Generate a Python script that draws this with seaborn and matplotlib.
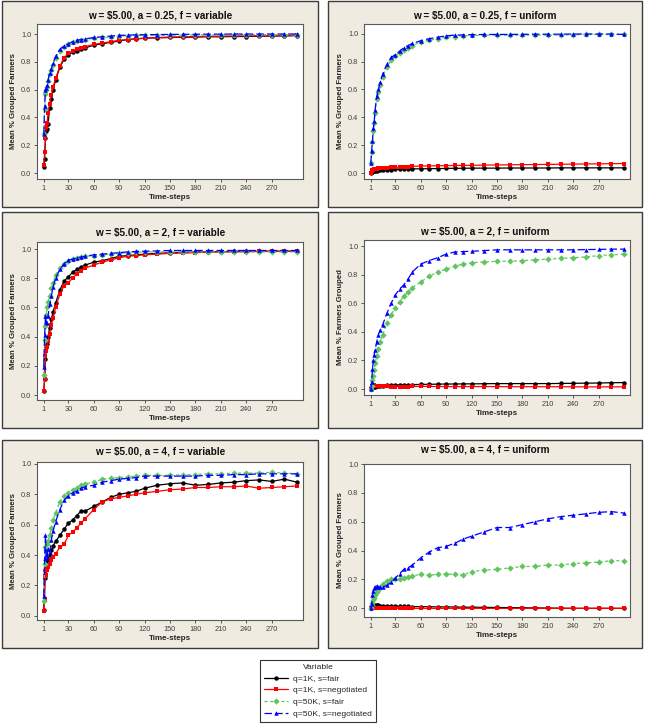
import matplotlib
matplotlib.use("Agg")
import matplotlib.pyplot as plt
from matplotlib.patches import Rectangle
import seaborn as sns
import pandas as pd

steps = [1, 2, 3, 4, 5, 6, 8, 10, 12, 15, 20, 25, 30, 35, 40, 45, 50, 60, 70, 80,
         90, 100, 110, 120, 135, 150, 165, 180, 195, 210, 225, 240, 255, 270, 285, 300]

series_names = ["q=1K, s=fair", "q=1K, s=negotiated", "q=50K, s=fair", "q=50K, s=negotiated"]

panel_titles = ["w = $5.00, a = 0.25, f = variable", "w = $5.00, a = 0.25, f = uniform",
                "w = $5.00, a = 2, f = variable", "w = $5.00, a = 2, f = uniform",
                "w = $5.00, a = 4, f = variable", "w = $5.00, a = 4, f = uniform"]
y_labels = ["Mean % Grouped Farmers", "Mean % Grouped Farmers",
            "Mean % Grouped Farmers", "Mean % Farmers Grouped",
            "Mean % Grouped Farmers", "Mean % Grouped Farmers"]

# a = 0.25, f = variable
p1_1k_fair = [.04, .10, .25, .30, .32, .35, .47, .53, .60, .67, .76, .82, .85, .87, .88, .89, .90, .92,
              .93, .94, .95, .96, .965, .97, .972, .975, .976, .978, .98, .98, .982, .982, .984, .985, .986, .988]
p1_1k_neg = [.06, .15, .25, .33, .36, .43, .50, .56, .62, .68, .77, .83, .86, .88, .89, .90, .91, .925,
             .935, .945, .955, .96, .965, .97, .975, .978, .98, .982, .984, .985, .986, .987, .988, .988, .989, .99]
p1_50k_fair = [.28, .46, .57, .60, .62, .66, .71, .74, .78, .83, .88, .91, .925, .94, .95, .955, .96, .97,
               .975, .98, .985, .987, .99, .99, .99, .992, .993, .993, .994, .994, .995, .995, .995, .995, .995, .995]
p1_50k_neg = [.28, .48, .60, .61, .63, .67, .72, .75, .79, .84, .89, .915, .93, .945, .955, .96, .965, .975,
              .98, .985, .99, .992, .994, .995, .996, .997, .998, .998, .999, .999, 1.0, 1.0, 1.0, 1.0, 1.0, 1.0]

# a = 0.25, f = uniform
p2_1k_fair = [0, .005, .01, .012, .015, .016, .018, .02, .021, .022, .024, .025, .026, .027, .028, .029, .03, .03,
              .031, .032, .033, .034, .034, .035, .035, .035, .036, .036, .036, .036, .037, .037, .037, .037, .037, .037]
p2_1k_neg = [0, .015, .02, .024, .027, .029, .031, .033, .035, .036, .038, .04, .041, .043, .045, .046, .048, .05,
             .051, .052, .053, .054, .055, .055, .057, .058, .059, .06, .061, .062, .063, .064, .065, .066, .067, .068]
p2_50k_fair = [.07, .15, .22, .30, .36, .43, .53, .58, .63, .69, .76, .81, .84, .865, .885, .90, .915, .94,
               .955, .965, .975, .98, .985, .988, .99, .99, .99, .99, .99, .99, .99, .993, .995, .995, .995, .995]
p2_50k_neg = [.07, .16, .23, .32, .37, .45, .55, .60, .65, .71, .78, .83, .85, .875, .90, .915, .93, .95,
              .965, .975, .985, .99, .992, .993, .995, .995, .995, .996, .997, .997, .997, .998, .998, .998, .998, .995]

# a = 2, f = variable
p3_1k_fair = [.03, .11, .25, .33, .35, .40, .46, .52, .57, .63, .72, .78, .81, .84, .86, .875, .89, .91,
              .92, .935, .95, .955, .96, .965, .97, .975, .977, .98, .98, .982, .983, .983, .984, .985, .985, .985]
p3_1k_neg = [.03, .11, .27, .30, .33, .37, .42, .48, .53, .60, .69, .75, .77, .80, .83, .85, .87, .89,
             .91, .925, .94, .95, .955, .96, .965, .97, .972, .975, .978, .98, .98, .982, .983, .984, .985, .985]
p3_50k_fair = [.14, .38, .47, .55, .60, .64, .68, .73, .77, .82, .87, .90, .92, .935, .94, .945, .95, .955,
               .96, .965, .97, .975, .978, .98, .98, .98, .98, .98, .98, .98, .98, .98, .98, .98, .98, .98]
p3_50k_neg = [.19, .41, .54, .50, .49, .54, .62, .68, .74, .80, .86, .90, .925, .93, .94, .945, .95, .96,
              .965, .97, .975, .98, .983, .985, .987, .99, .99, .99, .99, .99, .99, .99, .99, .99, .99, .99]

# a = 2, f = uniform
p4_1k_fair = [0, .005, .01, .012, .015, .016, .018, .02, .022, .023, .025, .027, .028, .029, .03, .03, .031, .032,
              .033, .034, .035, .035, .036, .036, .037, .038, .038, .038, .038, .038, .039, .04, .041, .042, .044, .045]
p4_1k_neg = [0, .015, .02, .022, .025, .024, .022, .02, .019, .018, .018, .017, .017, .017, .017, .017, .018, .018,
             .018, .017, .017, .017, .017, .017, .017, .017, .016, .016, .016, .016, .016, .015, .015, .015, .015, .015]
p4_50k_fair = [0, .02, .06, .09, .13, .18, .23, .28, .33, .38, .46, .52, .57, .61, .65, .68, .71, .75,
               .79, .82, .84, .86, .875, .885, .89, .895, .895, .90, .905, .91, .915, .92, .925, .935, .94, .945]
p4_50k_neg = [0, .05, .14, .20, .24, .27, .33, .38, .41, .45, .53, .60, .66, .70, .73, .77, .82, .875,
              .90, .92, .945, .96, .963, .965, .97, .975, .975, .975, .975, .975, .975, .975, .977, .978, .98, .98]

# a = 4, f = variable
p5_1k_fair = [.04, .25, .30, .33, .36, .37, .40, .43, .46, .49, .53, .57, .61, .63, .66, .69, .69, .72,
              .75, .78, .80, .81, .82, .84, .86, .87, .875, .86, .865, .875, .88, .89, .895, .885, .90, .88]
p5_1k_neg = [.03, .11, .26, .27, .30, .32, .34, .37, .39, .41, .45, .47, .53, .55, .58, .61, .64, .70,
             .75, .77, .78, .79, .80, .81, .82, .83, .835, .845, .845, .85, .85, .855, .84, .845, .85, .855]
p5_50k_fair = [.10, .34, .45, .43, .47, .49, .53, .58, .63, .68, .75, .79, .81, .83, .84, .86, .87, .88,
               .90, .905, .91, .915, .92, .925, .925, .925, .93, .93, .935, .935, .94, .94, .94, .945, .94, .935]
p5_50k_neg = [.13, .38, .53, .40, .38, .44, .42, .50, .56, .62, .70, .76, .79, .81, .82, .84, .85, .86,
              .88, .89, .90, .905, .91, .92, .92, .92, .92, .92, .925, .925, .93, .93, .935, .935, .935, .935]

# a = 4, f = uniform
p6_1k_fair = [0, .01, .015, .018, .02, .02, .02, .02, .019, .018, .017, .016, .015, .014, .013, .013, .012, .012,
              .011, .01, .01, .009, .008, .008, .007, .006, .005, .004, .003, .002, .001, 0, 0, 0, 0, 0]
p6_1k_neg = [0, .003, .005, .005, .005, .004, .003, .002, .002, .001, .001, 0, 0, 0, 0, 0, 0, 0,
             0, 0, 0, 0, 0, 0, 0, 0, 0, 0, 0, 0, 0, 0, 0, 0, 0, 0]
p6_50k_fair = [0, .02, .04, .06, .07, .09, .11, .13, .15, .17, .19, .20, .20, .205, .21, .215, .225, .235,
               .23, .235, .24, .235, .23, .255, .265, .27, .28, .29, .29, .30, .30, .31, .315, .32, .33, .33]
p6_50k_neg = [0, .03, .09, .12, .14, .15, .155, .15, .145, .145, .16, .18, .21, .24, .27, .28, .30, .35,
              .39, .42, .43, .45, .48, .50, .53, .56, .56, .58, .60, .62, .635, .645, .655, .665, .67, .66]

panel_data = [
    [p1_1k_fair, p1_1k_neg, p1_50k_fair, p1_50k_neg],
    [p2_1k_fair, p2_1k_neg, p2_50k_fair, p2_50k_neg],
    [p3_1k_fair, p3_1k_neg, p3_50k_fair, p3_50k_neg],
    [p4_1k_fair, p4_1k_neg, p4_50k_fair, p4_50k_neg],
    [p5_1k_fair, p5_1k_neg, p5_50k_fair, p5_50k_neg],
    [p6_1k_fair, p6_1k_neg, p6_50k_fair, p6_50k_neg],
]

rows = []
for i, series in enumerate(panel_data):
    for name, vals in zip(series_names, series):
        for t, v in zip(steps, vals):
            rows.append({"panel": i, "Time-steps": t, "value": v, "Variable": name})
df = pd.DataFrame(rows)

sns.set_style("white")
plt.rcParams["font.family"] = ["Liberation Sans", "DejaVu Sans"]

palette = dict(zip(series_names, ["#000000", "#ff0000", "#5fc65f", "#0000ff"]))
markers = dict(zip(series_names, ["o", "s", "D", "^"]))
dashes = dict(zip(series_names, ["", "", (2.5, 2), (6, 2.5)]))

W, H = 646, 725
fig = plt.figure(figsize=(W / 100, H / 100), dpi=100)

# panel frames (pixels: x0, x1, y0, y1)
boxes = [(2, 318, 1, 207), (328, 642, 1, 207),
         (2, 318, 212, 428), (328, 642, 212, 428),
         (2, 318, 440, 648), (328, 642, 440, 648)]
# plot areas (pixels: left, top, bottom) and y limits
areas = [(37, 24, 179), (364, 24, 179),
         (37, 242, 400), (364, 240, 395),
         (37, 462, 620), (364, 464, 617)]
ylims = [(-0.043, 1.072), (-0.043, 1.07), (-0.034, 1.048),
         (-0.042, 1.044), (-0.028, 1.013), (-0.06, 1.0)]
title_y = [15, 15, 232, 231, 452, 450]

for x0, x1, y0, y1 in boxes:
    fig.patches.append(Rectangle((x0 / W, 1 - y1 / H), (x1 - x0) / W, (y1 - y0) / H,
                                 transform=fig.transFigure, facecolor="#efebe0",
                                 edgecolor="#3c3c3c", linewidth=1.0, zorder=-5))

handles, labels = None, None
for i in range(6):
    left, top, bottom = areas[i]
    ax = fig.add_axes([left / W, 1 - bottom / H, 266 / W, (bottom - top) / H])
    ax.set_zorder(2)
    ax.set_facecolor("white")
    sub = df[df["panel"] == i]
    sns.lineplot(data=sub, x="Time-steps", y="value", hue="Variable", style="Variable",
                 palette=palette, markers=markers, dashes=dashes, estimator=None,
                 markersize=3.2, markeredgewidth=0, linewidth=0.9,
                 legend=(i == 0), ax=ax)
    if i == 0:
        handles, labels = ax.get_legend_handles_labels()
        ax.get_legend().remove()
    ax.set_xlim(-7, 307)
    ax.set_ylim(*ylims[i])
    ax.set_xticks([1, 30, 60, 90, 120, 150, 180, 210, 240, 270])
    ax.set_yticks([0.0, 0.2, 0.4, 0.6, 0.8, 1.0])
    ax.set_yticklabels(["0.0", "0.2", "0.4", "0.6", "0.8", "1.0"])
    ax.tick_params(axis="both", length=2.5, width=0.6, pad=1.5, labelsize=5.3,
                   colors="#404040", direction="out", bottom=True, left=True)
    for sp in ax.spines.values():
        sp.set_color("#5a5a5a")
        sp.set_linewidth(0.8)
    ax.set_xlabel("Time-steps", fontsize=5.8, fontweight="bold", labelpad=1.5)
    ax.set_ylabel(y_labels[i], fontsize=5.6, fontweight="bold", labelpad=3)
    x0, x1, _, _ = boxes[i]
    fig.text((x0 + x1) / 2 / W, 1 - title_y[i] / H, panel_titles[i], ha="center", va="center",
             fontsize=7.2, fontweight="bold", color="#111111")

leg = fig.legend(handles, labels, title="Variable", loc="upper left",
                 bbox_to_anchor=(260 / W, 1 - 660 / H), fontsize=6.1, title_fontsize=6.1,
                 frameon=True, fancybox=False, edgecolor="#000000", handlelength=2.8,
                 handletextpad=0.7, borderpad=0.45, labelspacing=0.45, borderaxespad=0)
leg.get_frame().set_linewidth(0.8)

fig.savefig("out.png", dpi=100)
